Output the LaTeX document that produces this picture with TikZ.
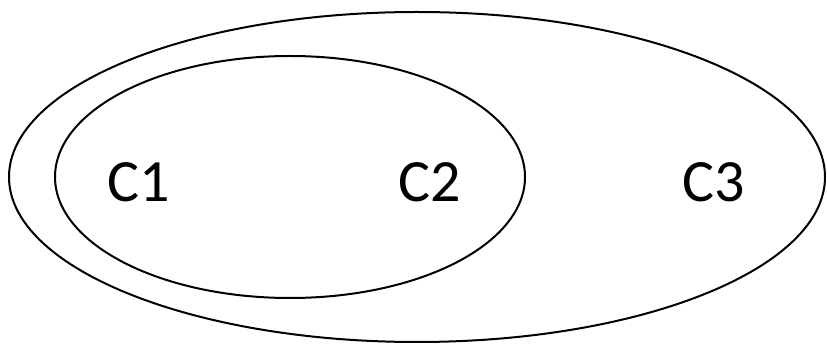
\documentclass[tikz,border=0pt]{standalone}
\usepackage{fontspec}
\setmainfont{Carlito}
\usetikzlibrary{shapes.geometric}

\begin{document}
\begin{tikzpicture}[x=1pt,y=-1pt,set/.style={draw,ellipse,line width=2pt,inner sep=0pt},lbl/.style={anchor=base,font=\fontsize{60}{72}\selectfont}]
\useasboundingbox (0,0) rectangle (827,344);
\node[set,minimum width=816pt,minimum height=330pt] (outer) at (417,177) {};
\node[set,minimum width=470pt,minimum height=242pt] (inner) at (290,177) {};
\node[lbl] (c1) at (138.5,201.5) {C1};
\node[lbl] (c2) at (430,201.5) {C2};
\node[lbl] (c3) at (714,201.5) {C3};
\end{tikzpicture}
\end{document}
